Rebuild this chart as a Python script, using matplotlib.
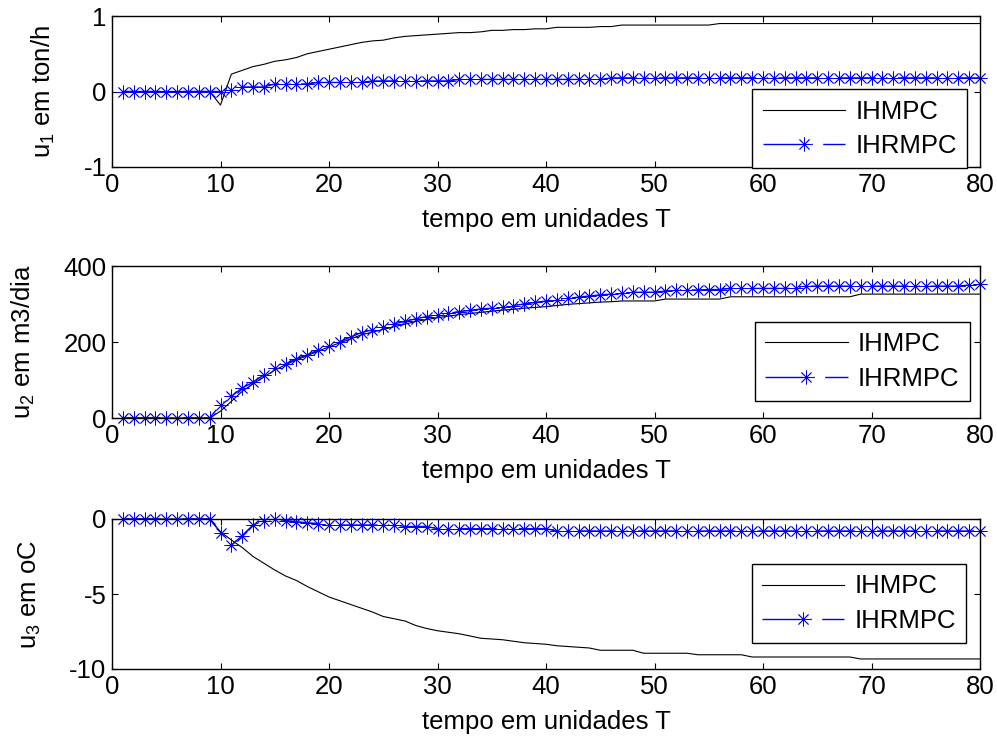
import numpy as np
import matplotlib
matplotlib.use("Agg")
import matplotlib.pyplot as plt
from matplotlib.markers import MarkerStyle

plt.rcParams['font.family'] = ['Liberation Sans', 'DejaVu Sans']
plt.rcParams['mathtext.fontset'] = 'custom'
plt.rcParams['mathtext.rm'] = 'Liberation Sans'
plt.rcParams['axes.unicode_minus'] = False

t = list(range(1, 81))

u1_ihmpc = [0]*9 + [-0.18, 0.23, 0.28, 0.33, 0.36, 0.40, 0.42, 0.45, 0.50, 0.53, 0.56,
                    0.59, 0.62, 0.65, 0.67, 0.68, 0.71, 0.73, 0.74, 0.75, 0.76,
                    0.77, 0.78, 0.78, 0.79, 0.81, 0.81, 0.82, 0.82, 0.83, 0.83,
                    0.85, 0.85, 0.85, 0.85, 0.86, 0.86, 0.88, 0.88, 0.88, 0.88,
                    0.88, 0.88, 0.88, 0.88, 0.88] + [0.90]*25
u1_ihrmpc = [0]*10 + [0.02] + [0.06]*3 + [0.10]*4 + [0.12]*5 + [0.14]*8 + [0.16]*14 + [0.18]*35

u2_ihmpc = [0]*9 + [18, 44, 70, 90, 108, 126, 140, 153, 164, 176, 187, 198, 208, 219, 226,
                    233, 240, 247, 254, 259, 264, 268, 272, 275, 278, 281, 284, 286,
                    289, 291, 293, 296, 299, 301, 303, 305, 306] + [308]*4 + [313]*6 + [319]*12 + [326]*12
u2_ihrmpc = [0]*9 + [35, 57, 79, 94, 114, 131, 142, 156, 166, 179, 190, 201, 213, 225, 232,
                     239, 248, 254, 261, 267, 271, 276, 280, 283, 287, 289, 293, 296,
                     300, 304, 308, 311, 315, 318, 321, 324, 326, 329, 331, 331, 331,
                     334, 337, 337, 337, 338, 338] + [341]*7 + [347]*15 + [350, 352]

u3_ihmpc = [0]*9 + [-0.85, -1.4, -1.9, -2.5, -2.95, -3.4, -3.8, -4.1, -4.5, -4.85, -5.2,
                    -5.45, -5.7, -5.95, -6.2, -6.5, -6.65, -6.8, -7.1, -7.3, -7.45,
                    -7.55, -7.65, -7.8, -7.95, -8.0, -8.05, -8.15, -8.25, -8.3, -8.35,
                    -8.45, -8.5, -8.55, -8.6] + [-8.75]*4 + [-8.95]*5 + [-9.05]*5 + [-9.2]*10 + [-9.33]*12
u3_ihrmpc = [0]*9 + [-0.9, -1.75, -1.1, -0.4, -0.1, 0.0, -0.1, -0.18, -0.25, -0.3] + [-0.4]*7 + \
            [-0.5]*3 + [-0.65]*11 + [-0.8]*40

ylabels = [r'$\mathregular{u_1}$ em ton/h', r'$\mathregular{u_2}$ em m3/dia', r'$\mathregular{u_3}$ em oC']
ylims = [(-1, 1), (0, 400), (-10, 0)]
yticks = [[-1, 0, 1], [0, 200, 400], [-10, -5, 0]]
xlabel = 'tempo em unidades T'
legend_labels = ['IHMPC', 'IHRMPC']
series = [(u1_ihmpc, u1_ihrmpc), (u2_ihmpc, u2_ihrmpc), (u3_ihmpc, u3_ihrmpc)]

W, H = 997, 738
fig = plt.figure(figsize=(W/100, H/100), dpi=100)
boxes = [(112, 16, 980, 167), (112, 266, 980, 418), (112, 519, 980, 669)]
leg_anchor = [(0.985, -0.007), (0.988, 0.112), (0.984, 0.173)]
FS = 18.5
ast = MarkerStyle((8, 2, 0))

for i, (l, tp, r, b) in enumerate(boxes):
    ax = fig.add_axes([l/W, 1 - b/H, (r-l)/W, (b-tp)/H])
    a, c = series[i]
    ax.plot(t, a, color='black', lw=0.8, label=legend_labels[0])
    ax.plot(t, c, color='blue', lw=1.0, linestyle=(0, (27, 7.5, 1, 7.5)),
            marker=ast, markersize=10, markeredgewidth=0.6, label=legend_labels[1])
    ax.set_xlim(0, 80)
    ax.set_ylim(*ylims[i])
    ax.set_yticks(yticks[i])
    ax.set_xticks(range(0, 81, 10))
    ax.tick_params(direction='in', length=4.5, width=0.8, top=True, right=True,
                   labelsize=FS, pad=4)
    for s in ax.spines.values():
        s.set_linewidth(1.0)
    ax.set_xlabel(xlabel, fontsize=FS, labelpad=8)
    ax.set_ylabel(ylabels[i], fontsize=FS, labelpad=19)
    leg = ax.legend(loc='lower right', bbox_to_anchor=leg_anchor[i], fontsize=FS,
                    frameon=True, fancybox=False, framealpha=1, edgecolor='black',
                    handlelength=3.2, handletextpad=0.4, borderpad=0.4, labelspacing=0.4,
                    borderaxespad=0)
    leg.get_frame().set_linewidth(1.0)
    for ln in ax.get_lines():
        ln.set_clip_on(False)

fig.savefig('out.png', dpi=100)
